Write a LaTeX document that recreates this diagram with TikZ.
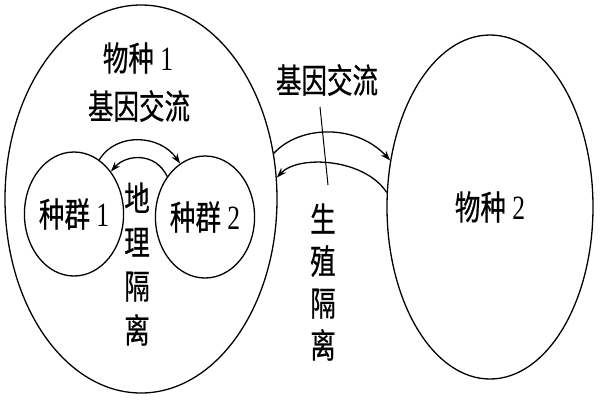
\documentclass[tikz,border=0pt]{standalone}
\usepackage{fontspec}
\setmainfont{Liberation Serif}[FakeStretch=0.75]
\newfontfamily\cjk{Noto Sans CJK SC}[FakeStretch=0.75,FakeBold=0.6]
\usetikzlibrary{shapes.geometric,arrows.meta}
\begin{document}
\begin{tikzpicture}[x=1pt,y=-1pt,
  oval/.style={draw,ellipse,line width=1.3pt,inner sep=0pt},
  lbl/.style={inner sep=0pt,font=\fontsize{34}{44}\selectfont,align=center},
  arr/.style={line width=1.3pt,-{Stealth[length=10pt,width=7pt]}},
  thin/.style={line width=1pt}]
\useasboundingbox (0,0) rectangle (600,400);
\fill[white] (0,0) rectangle (600,400);
\node[oval,minimum width=272pt,minimum height=388pt] (s1) at (141,199) {};
\node[oval,minimum width=206pt,minimum height=344pt,font=\fontsize{34}{44}\selectfont] (s2) at (490,207) {{\cjk 物种} 2};
\node[oval,minimum width=82pt,minimum height=124pt,font=\fontsize{34}{44}\selectfont] (p1) at (74,214) {{\cjk 种群} 1};
\node[oval,minimum width=80pt,minimum height=122pt,font=\fontsize{34}{44}\selectfont] (p2) at (205,217) {{\cjk 种群} 2};
\node[lbl] (t1) at (138,58) {{\cjk 物种} 1};
\node[lbl] (t2) at (139,106) {\cjk 基因交流};
\node[lbl] (t3) at (327,80) {\cjk 基因交流};
\node[lbl,font=\fontsize{34}{44}\selectfont\cjk] (t4) at (137,264) {地\\理\\隔\\离};
\node[lbl,font=\fontsize{34}{42}\selectfont\cjk] (t5) at (323,282) {生\\殖\\隔\\离};
\draw[arr] (p1.65) .. controls +(17,-28) and +(-20,-29) .. (p2.115);
\draw[arr] (p2.133) .. controls +(-12,-25) and +(15,-17) .. (p1.49);
\draw[arr] (s1.19) .. controls +(27,-29) and +(-33,-36) .. (s2.155);
\draw[arr] (s2.172) .. controls +(-22,-34) and +(22,-23) .. (s1.9);
\coordinate (ltop) at (320,107);
\coordinate (lbot) at (328,185);
\draw[thin] (ltop) -- (lbot);
\end{tikzpicture}
\end{document}
